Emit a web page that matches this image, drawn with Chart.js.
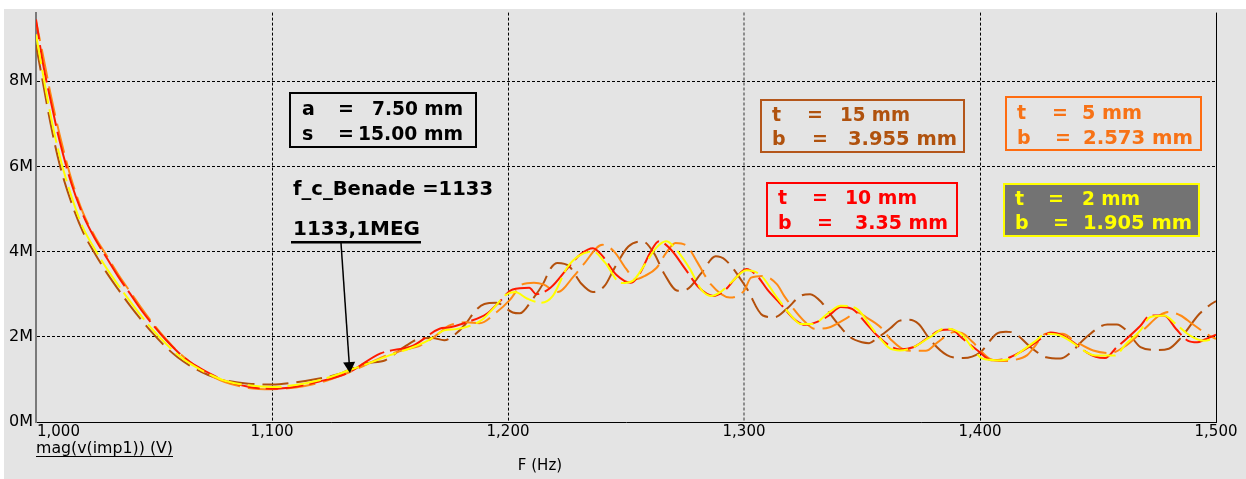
<!DOCTYPE html>
<html>
<head>
<meta charset="utf-8">
<script src="https://cdn.jsdelivr.net/npm/chart.js@4.4.1/dist/chart.umd.min.js"></script>
<style>
  html, body { margin: 0; padding: 0; background: #fff; }
  #wrap { width: 1246px; height: 479px; }
</style>
</head>
<body>
<div id="wrap"><canvas id="myChart" width="1246" height="479"></canvas></div>
<script>
// values in MV, frequency in Hz
const xTicks = [1000, 1100, 1200, 1300, 1400, 1500];
const yTicks = [0, 2, 4, 6, 8];

const brownF = [1000,1003,1006,1010,1015,1020,1025,1030,1035,1040,1045,1050,1055,1060,1065,1070,1075,1080,1090,1100,1110,1120,1128,1135,1140,1148,1152,1157,1163,1168,1173,1177,1182,1186,1190,1195,1202,1205,1210,1215,1218,1221,1226,1231,1236,1241,1245,1251,1257,1262,1266,1272,1276,1282,1288,1292,1301,1308,1313,1318,1324,1328,1333,1337,1341,1345,1350,1353,1356,1362,1366,1370,1374,1379,1386,1393,1400,1407,1411,1414,1422,1428,1434,1439,1445,1454,1458,1462,1468,1475,1480,1485,1493,1497,1500];
const brownV = [8.85,7.95,7.05,6.05,5.15,4.45,3.95,3.5,3.1,2.72,2.37,2.05,1.76,1.52,1.33,1.18,1.06,0.98,0.9,0.88,0.93,1.02,1.12,1.28,1.38,1.45,1.6,1.8,1.96,1.97,1.92,2.03,2.3,2.6,2.77,2.8,2.57,2.55,2.85,3.26,3.6,3.73,3.65,3.25,3.05,3.2,3.6,4.12,4.24,3.95,3.5,3.08,3.12,3.5,3.89,3.81,3.15,2.5,2.46,2.65,2.96,3.0,2.8,2.5,2.22,1.99,1.87,1.85,1.95,2.2,2.38,2.4,2.3,1.92,1.57,1.5,1.63,2.07,2.12,2.1,1.73,1.52,1.49,1.66,1.99,2.29,2.29,2.15,1.76,1.69,1.72,1.97,2.54,2.73,2.84];

const orangeF = [1000,1003,1006,1010,1015,1020,1025,1030,1035,1040,1045,1050,1055,1060,1065,1070,1075,1080,1090,1100,1110,1120,1132,1140,1147,1155,1163,1170,1175,1182,1188,1195,1201,1206,1211,1215,1221,1228,1232,1240,1245,1250,1254,1258,1263,1267,1271,1276,1280,1286,1294,1300,1303,1308,1314,1317,1326,1330,1336,1343,1348,1352,1358,1362,1369,1377,1382,1389,1393,1397,1404,1410,1414,1420,1423,1428,1435,1440,1448,1455,1462,1470,1476,1480,1485,1490,1496,1500];
const orangeV = [9.4,8.6,7.75,6.75,5.7,4.9,4.35,3.9,3.45,3.05,2.65,2.28,1.95,1.66,1.42,1.22,1.06,0.94,0.8,0.77,0.81,0.92,1.15,1.35,1.53,1.68,1.8,2.05,2.26,2.34,2.32,2.57,2.88,3.23,3.27,3.23,3.05,3.43,3.7,4.16,4.0,3.6,3.35,3.43,3.62,3.97,4.2,4.12,3.77,3.23,2.92,3.08,3.39,3.43,3.23,2.96,2.34,2.19,2.22,2.42,2.57,2.45,2.22,1.95,1.68,1.67,1.87,2.11,2.07,1.87,1.49,1.43,1.45,1.57,1.76,2.07,2.07,1.91,1.68,1.62,1.8,2.2,2.5,2.58,2.5,2.3,2.07,1.95];

const redF = [1000,1003,1006,1010,1015,1020,1025,1030,1035,1040,1045,1050,1055,1060,1065,1070,1075,1080,1090,1100,1110,1120,1132,1146,1160,1171,1175,1183,1191,1196,1202,1209,1212,1218,1226,1231,1236,1240,1246,1252,1256,1260,1264,1269,1275,1281,1287,1292,1296,1301,1306,1310,1315,1322,1326,1331,1336,1341,1346,1352,1357,1362,1366,1372,1378,1383,1388,1392,1399,1405,1410,1417,1424,1430,1435,1440,1445,1449,1453,1458,1462,1468,1472,1478,1483,1488,1492,1495,1500];
const redV = [9.45,8.4,7.6,6.6,5.6,4.85,4.3,3.85,3.4,3.0,2.6,2.25,1.93,1.65,1.42,1.25,1.1,0.97,0.83,0.78,0.83,0.95,1.15,1.61,1.8,2.19,2.22,2.35,2.54,2.8,3.11,3.15,3.0,3.15,3.66,3.95,4.08,3.9,3.45,3.27,3.5,3.95,4.24,4.05,3.6,3.15,2.96,3.1,3.35,3.59,3.4,3.1,2.8,2.38,2.28,2.35,2.5,2.7,2.65,2.3,2.0,1.78,1.7,1.76,1.98,2.15,2.17,1.99,1.68,1.45,1.47,1.64,1.88,2.1,2.03,1.85,1.64,1.53,1.5,1.76,1.95,2.26,2.5,2.5,2.19,1.91,1.87,1.93,2.05];

const yellowF = [1000,1003,1006,1010,1015,1020,1025,1030,1035,1040,1045,1050,1055,1060,1065,1070,1075,1080,1090,1100,1110,1120,1133,1142,1150,1158,1166,1173,1178,1184,1189,1194,1199,1203,1208,1214,1219,1225,1230,1236,1241,1248,1253,1258,1263,1267,1272,1277,1282,1286,1290,1295,1301,1307,1314,1321,1324,1329,1336,1341,1348,1353,1356,1362,1366,1372,1379,1385,1392,1397,1401,1407,1413,1417,1423,1428,1434,1442,1445,1449,1457,1462,1468,1472,1478,1483,1489,1495,1500];
const yellowV = [9.1,8.15,7.25,6.25,5.3,4.55,4.05,3.6,3.2,2.82,2.46,2.13,1.84,1.58,1.38,1.22,1.08,0.97,0.86,0.82,0.87,0.98,1.22,1.4,1.57,1.72,1.91,2.15,2.18,2.26,2.4,2.68,2.98,3.05,2.9,2.8,2.96,3.62,3.9,4.0,3.75,3.26,3.32,3.7,4.1,4.24,4.0,3.6,3.1,2.96,3.05,3.3,3.56,3.45,2.92,2.43,2.3,2.3,2.57,2.73,2.65,2.3,2.08,1.72,1.68,1.76,2.0,2.19,2.07,1.72,1.49,1.45,1.49,1.64,1.88,2.07,2.03,1.76,1.64,1.56,1.56,1.84,2.15,2.46,2.5,2.3,2.03,1.91,1.97];

// marker: f_c_Benade
const markerF = 1133;
const markerV = 1.15;

let pts = (f, v) => f.map((x, i) => ({ x: x, y: v[i] }));

let line = (label, f, v, color, dash, off, order) => ({
  label: label,
  data: pts(f, v),
  borderColor: color,
  borderWidth: 2,
  borderDash: dash,
  borderDashOffset: off,
  pointRadius: 0,
  cubicInterpolationMode: 'monotone',
  order: order
});

let fitText = function(ctx, s, left, y, w) {
  let m = ctx.measureText(s).width;
  ctx.save();
  ctx.translate(left, y);
  ctx.scale(w / m, 1);
  ctx.textAlign = 'left';
  ctx.fillText(s, 0, 0);
  ctx.restore();
};

// annotation boxes: [left, top, right, bottom], rows: label, labelX, eqX, value, valueLeft, valueRight, y
const boxes = [
  { r: [290, 93, 476, 147], stroke: '#000', fill: null, color: '#000',
    rows: [['a', 302, 338, '7.50 mm', 372, 463, 110], ['s', 302, 338, '15.00 mm', 358, 463, 135]] },
  { r: [761, 100, 964, 152], stroke: '#b4561a', fill: null, color: '#b0520e',
    rows: [['t', 772, 807, '15 mm', 840, 910, 116], ['b', 772, 812, '3.955 mm', 848, 957, 140]] },
  { r: [1006, 97, 1201, 150], stroke: '#ff6c10', fill: null, color: '#f77216',
    rows: [['t', 1017, 1052, '5 mm', 1082, 1142, 114], ['b', 1017, 1055, '2.573 mm', 1083, 1193, 139]] },
  { r: [767, 183, 957, 236], stroke: '#ff0000', fill: null, color: '#ff0000',
    rows: [['t', 778, 812, '10 mm', 845, 917, 199], ['b', 778, 817, '3.35 mm', 855, 948, 224]] },
  { r: [1004, 184, 1199, 236], stroke: '#ffff00', fill: '#737373', color: '#ffff00',
    rows: [['t', 1015, 1048, '2 mm', 1082, 1140, 200], ['b', 1015, 1053, '1.905 mm', 1083, 1192, 224]] }
];

const bgPlugin = {
  id: 'bg',
  beforeDraw(chart) {
    const c = chart.ctx;
    c.save();
    c.fillStyle = '#fff';
    c.fillRect(0, 0, chart.width, chart.height);
    c.fillStyle = '#e4e4e4';
    c.fillRect(4, 9, chart.width - 4, chart.height - 9);
    c.restore();
  }
};

const notesPlugin = {
  id: 'notes',
  afterDraw(chart) {
    const c = chart.ctx;
    const xs = chart.scales.x, ys = chart.scales.y;
    const a = chart.chartArea;
    c.save();

    // right border
    c.strokeStyle = '#000';
    c.lineWidth = 1;
    c.beginPath();
    c.moveTo(Math.round(a.right) + 0.5, a.top);
    c.lineTo(Math.round(a.right) + 0.5, a.bottom);
    c.stroke();

    // x tick labels, first one left aligned like the original
    c.fillStyle = '#000';
    c.font = '15px "DejaVu Sans"';
    c.textBaseline = 'middle';
    xTicks.forEach((t, i) => {
      let s = t.toLocaleString('en-US');
      let px = xs.getPixelForValue(t);
      c.textAlign = i === 0 ? 'left' : 'center';
      c.fillText(s, i === 0 ? px + 1 : px, 432);
    });

    // trace name, underlined
    c.textAlign = 'left';
    fitText(c, 'mag(v(imp1)) (V)', 36, 449, 137);
    c.fillRect(36, 456, 137, 1);
    c.textAlign = 'center';
    c.fillText('F (Hz)', 540, 466);

    // boxes
    c.font = 'bold 19px "DejaVu Sans"';
    boxes.forEach(b => {
      let [l, t, r, btm] = b.r;
      if (b.fill) {
        c.fillStyle = b.fill;
        c.fillRect(l, t, r - l, btm - t);
      }
      c.strokeStyle = b.stroke;
      c.lineWidth = 2;
      c.strokeRect(l, t, r - l, btm - t);
      c.fillStyle = b.color;
      b.rows.forEach(row => {
        c.textAlign = 'left';
        c.fillText(row[0], row[1], row[6]);
        c.fillText('=', row[2], row[6]);
        fitText(c, row[3], row[4], row[6], row[5] - row[4]);
      });
    });

    // f_c note with arrow
    c.fillStyle = '#000';
    fitText(c, 'f_c_Benade =1133', 293, 190, 200);
    fitText(c, '1133,1MEG', 293, 230, 127);
    c.fillRect(291, 241, 130, 2.5);

    let tx = xs.getPixelForValue(markerF), ty = ys.getPixelForValue(markerV);
    let sx = 341, sy = 243;
    let ang = Math.atan2(ty - sy, tx - sx);
    c.strokeStyle = '#000';
    c.lineWidth = 1.5;
    c.beginPath();
    c.moveTo(sx, sy);
    c.lineTo(tx - 9 * Math.cos(ang), ty - 9 * Math.sin(ang));
    c.stroke();
    c.beginPath();
    c.moveTo(tx, ty);
    c.lineTo(tx - 11 * Math.cos(ang) + 6 * Math.sin(ang), ty - 11 * Math.sin(ang) - 6 * Math.cos(ang));
    c.lineTo(tx - 11 * Math.cos(ang) - 6 * Math.sin(ang), ty - 11 * Math.sin(ang) + 6 * Math.cos(ang));
    c.closePath();
    c.fill();

    c.restore();
  }
};

const ctx = document.getElementById('myChart');

let config = {
  type: 'line',
  data: {
    datasets: [
      line('t = 2 mm', yellowF, yellowV, '#ffff00', [34, 6], 4, 1),
      line('t = 10 mm', redF, redV, '#ff1a00', [38, 6], 18, 2),
      line('t = 5 mm', orangeF, orangeV, '#ff8a14', [30, 8], 10, 3),
      line('t = 15 mm', brownF, brownV, '#b4500c', [26, 8], 0, 4)
    ]
  },
  options: {
    responsive: false,
    animation: false,
    events: [],
    layout: { padding: { left: 0, top: 9, right: 30, bottom: 0 } },
    plugins: {
      legend: { display: false },
      tooltip: { enabled: false }
    },
    scales: {
      x: {
        type: 'linear',
        min: 1000,
        max: 1500,
        ticks: { display: false, stepSize: 100 },
        afterBuildTicks: s => { s.ticks = xTicks.map(v => ({ value: v })); },
        afterFit: s => { s.height = 57; },
        grid: {
          drawTicks: false,
          color: c => (c.tick.value === 1000 || c.tick.value === 1500) ? 'rgba(0,0,0,0)' : (c.tick.value === 1300 ? '#8c8c8c' : '#000'),
          lineWidth: c => c.tick.value === 1300 ? 2 : 1
        },
        border: { color: '#000', width: 1, dash: [3, 2] }
      },
      y: {
        min: 0,
        max: 9.61,
        afterBuildTicks: s => { s.ticks = yTicks.map(v => ({ value: v })); },
        afterFit: s => { s.width = 36; },
        ticks: {
          color: '#000',
          padding: 3,
          font: { family: 'DejaVu Sans', size: 16 },
          callback: v => v + 'M'
        },
        grid: {
          drawTicks: false,
          color: c => c.tick.value === 0 ? 'rgba(0,0,0,0)' : '#000',
          lineWidth: 1
        },
        border: { color: '#7a7a7a', width: 2, dash: [3, 2] }
      }
    }
  },
  plugins: [bgPlugin, notesPlugin]
};

let chart = new Chart(ctx, config);
</script>
</body>
</html>
